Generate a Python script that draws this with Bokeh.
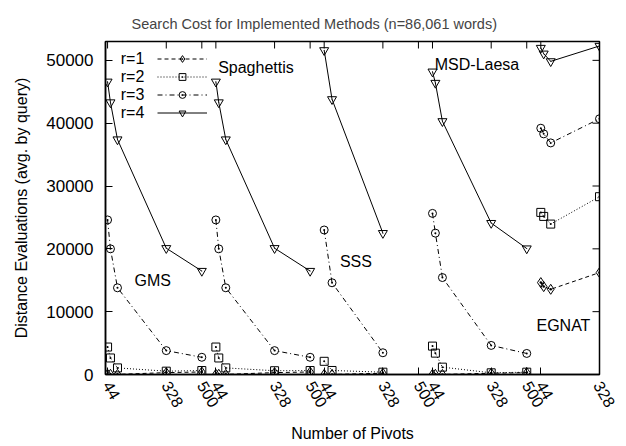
from bokeh.plotting import figure
from bokeh.models import FixedTicker, Range1d, Legend, LegendItem, Label
from bokeh.embed import file_html
from bokeh.resources import INLINE
import math

# ---------------- data ----------------
r_labels = ["r=1", "r=2", "r=3", "r=4"]
tick_values = [44, 328, 500]
yticks = [0, 10000, 20000, 30000, 40000, 50000]

gms_pivots = [44, 58, 92, 328, 500]
gms_r1 = [40, 30, 20, 300, 400]
gms_r2 = [4370, 2630, 1050, 530, 630]
gms_r3 = [24600, 20000, 13800, 3800, 2740]
gms_r4 = [46600, 43300, 37400, 20100, 16470]

spag_pivots = [44, 58, 92, 328, 500]
spag_r1 = [40, 30, 20, 300, 400]
spag_r2 = [4370, 2630, 1050, 600, 630]
spag_r3 = [24600, 20000, 13800, 3800, 2740]
spag_r4 = [46600, 43300, 37400, 20100, 16470]

sss_pivots = [44, 82, 328]
sss_r1 = [20, 10, 200]
sss_r2 = [2100, 640, 370]
sss_r3 = [23000, 14600, 3460]
sss_r4 = [51600, 43800, 22500]

msd_pivots = [44, 58, 92, 328, 500]
msd_r1 = [30, 20, 10, 200, 300]
msd_r2 = [4520, 3400, 1170, 270, 370]
msd_r3 = [25640, 22500, 15430, 4630, 3350]
msd_r4 = [48200, 46400, 40300, 24100, 20050]

egnat_pivots = [44, 58, 92, 328]
egnat_r1 = [14630, 13990, 13560, 16220]
egnat_r2 = [25800, 25160, 23940, 28300]
egnat_r3 = [39200, 38300, 36860, 40700]
egnat_r4 = [51970, 51060, 49840, 52290]

method_names = ["GMS", "Spaghettis", "SSS", "MSD-Laesa", "EGNAT"]
groups = [
    (gms_pivots, [gms_r1, gms_r2, gms_r3, gms_r4]),
    (spag_pivots, [spag_r1, spag_r2, spag_r3, spag_r4]),
    (sss_pivots, [sss_r1, sss_r2, sss_r3, sss_r4]),
    (msd_pivots, [msd_r1, msd_r2, msd_r3, msd_r4]),
    (egnat_pivots, [egnat_r1, egnat_r2, egnat_r3, egnat_r4]),
]

# ---------------- layout / style ----------------
SPACING = 524          # horizontal offset between the method groups
X0, X1 = 34, 2424
Y0, Y1 = 0, 53000
FW, FH = 494, 333
FONT = "Liberation Sans"
FS = "16px"

p = figure(frame_width=FW, frame_height=FH,
           x_range=Range1d(X0, X1), y_range=Range1d(Y0, Y1),
           output_backend="svg", toolbar_location=None,
           min_border_left=105, min_border_right=17,
           min_border_top=41, min_border_bottom=56,
           background_fill_color="white", border_fill_color="white")

p.title.text = "Search Cost for Implemented Methods (n=86,061 words)"
p.title.text_font = FONT
p.title.text_font_size = "14.5px"
p.title.text_font_style = "normal"
p.title.align = "left"
p.title.offset = 26
p.title.standoff = 19

p.xgrid.visible = False
p.ygrid.visible = False
p.outline_line_color = "black"
p.outline_line_width = 1.5

# x ticks (repeated pivot labels for every group)
xticks = []
overrides = {}
for k in range(len(groups)):
    for t in tick_values:
        pos = t + k * SPACING
        if pos <= X1:
            xticks.append(pos)
            overrides[pos] = str(t)

def style_axis(ax):
    ax.axis_line_color = "black"
    ax.axis_line_width = 1.5
    ax.major_tick_in = 7
    ax.major_tick_out = 0
    ax.major_tick_line_color = "black"
    ax.minor_tick_line_color = None
    ax.major_label_text_font = FONT
    ax.major_label_text_color = "black"
    ax.axis_label_text_font = FONT
    ax.axis_label_text_font_size = FS
    ax.axis_label_text_font_style = "normal"
    ax.axis_label_text_color = "black"

xa = p.xaxis[0]
xa.ticker = FixedTicker(ticks=xticks)
xa.major_label_overrides = overrides
style_axis(xa)
xa.major_label_text_font_size = FS
xa.major_label_orientation = -math.radians(60)
xa.major_label_standoff = 8
xa.axis_label = "Number of Pivots"
xa.axis_label_standoff = 10

ya = p.yaxis[0]
ya.ticker = FixedTicker(ticks=yticks)
style_axis(ya)
ya.major_label_text_font_size = "17px"
ya.major_label_standoff = 12
ya.axis_label = "Distance Evaluations (avg. by query)"
ya.axis_label_standoff = 13

# mirrored inward ticks on the top and right borders
tick_dy = 7 * (Y1 - Y0) / FH
tick_dx = 7 * (X1 - X0) / FW
p.segment(x0=xticks, x1=xticks, y0=[Y1] * len(xticks), y1=[Y1 - tick_dy] * len(xticks),
          line_color="black", line_width=1)
p.segment(x0=[X1] * len(yticks), x1=[X1 - tick_dx] * len(yticks), y0=yticks, y1=yticks,
          line_color="black", line_width=1)

dashes = ["4 3", "1 2", "5 3 1 3", "solid"]
markers = ["diamond_dot", "square_dot", "circle_dot", "inverted_triangle"]
msizes = [10, 8, 8, 9]

legend_renderers = [[] for _ in range(4)]
for k, (pivots, series) in enumerate(groups):
    xs = [v + k * SPACING for v in pivots]
    for i, ys in enumerate(series):
        lr = p.line(xs, ys, line_color="black", line_width=1, line_dash=dashes[i])
        sr = p.scatter(xs, ys, marker=markers[i], size=msizes[i],
                       line_color="black", line_width=1, fill_alpha=0)
        if i == 3:
            p.scatter(xs, ys, marker="dot", size=4, line_color="black")
        if k == 0:
            legend_renderers[i] = [lr, sr]

legend = Legend(items=[LegendItem(label=" ", renderers=legend_renderers[i]) for i in range(4)],
                location=(52, 253), glyph_width=50, glyph_height=17, label_height=17,
                spacing=1, padding=0, margin=0, label_standoff=0,
                label_text_font_size="6px", border_line_color=None,
                background_fill_alpha=0)
p.add_layout(legend, "center")

legend_y = [50294, 47430, 44570, 41710]
for i in range(4):
    p.add_layout(Label(x=222, y=legend_y[i], text=r_labels[i], text_align="right",
                       text_baseline="middle", text_font=FONT,
                       text_font_size=FS, text_color="black"))

label_pos = [(174, 14960), (579, 48860), (1168, 17985), (1627, 49340), (2119, 7800)]
for name, (lx, ly) in zip(method_names, label_pos):
    p.add_layout(Label(x=lx, y=ly, text=name, text_align="left", text_baseline="middle",
                       text_font=FONT, text_font_size=FS, text_color="black"))

open("out.html", "w").write(file_html(p, INLINE))
